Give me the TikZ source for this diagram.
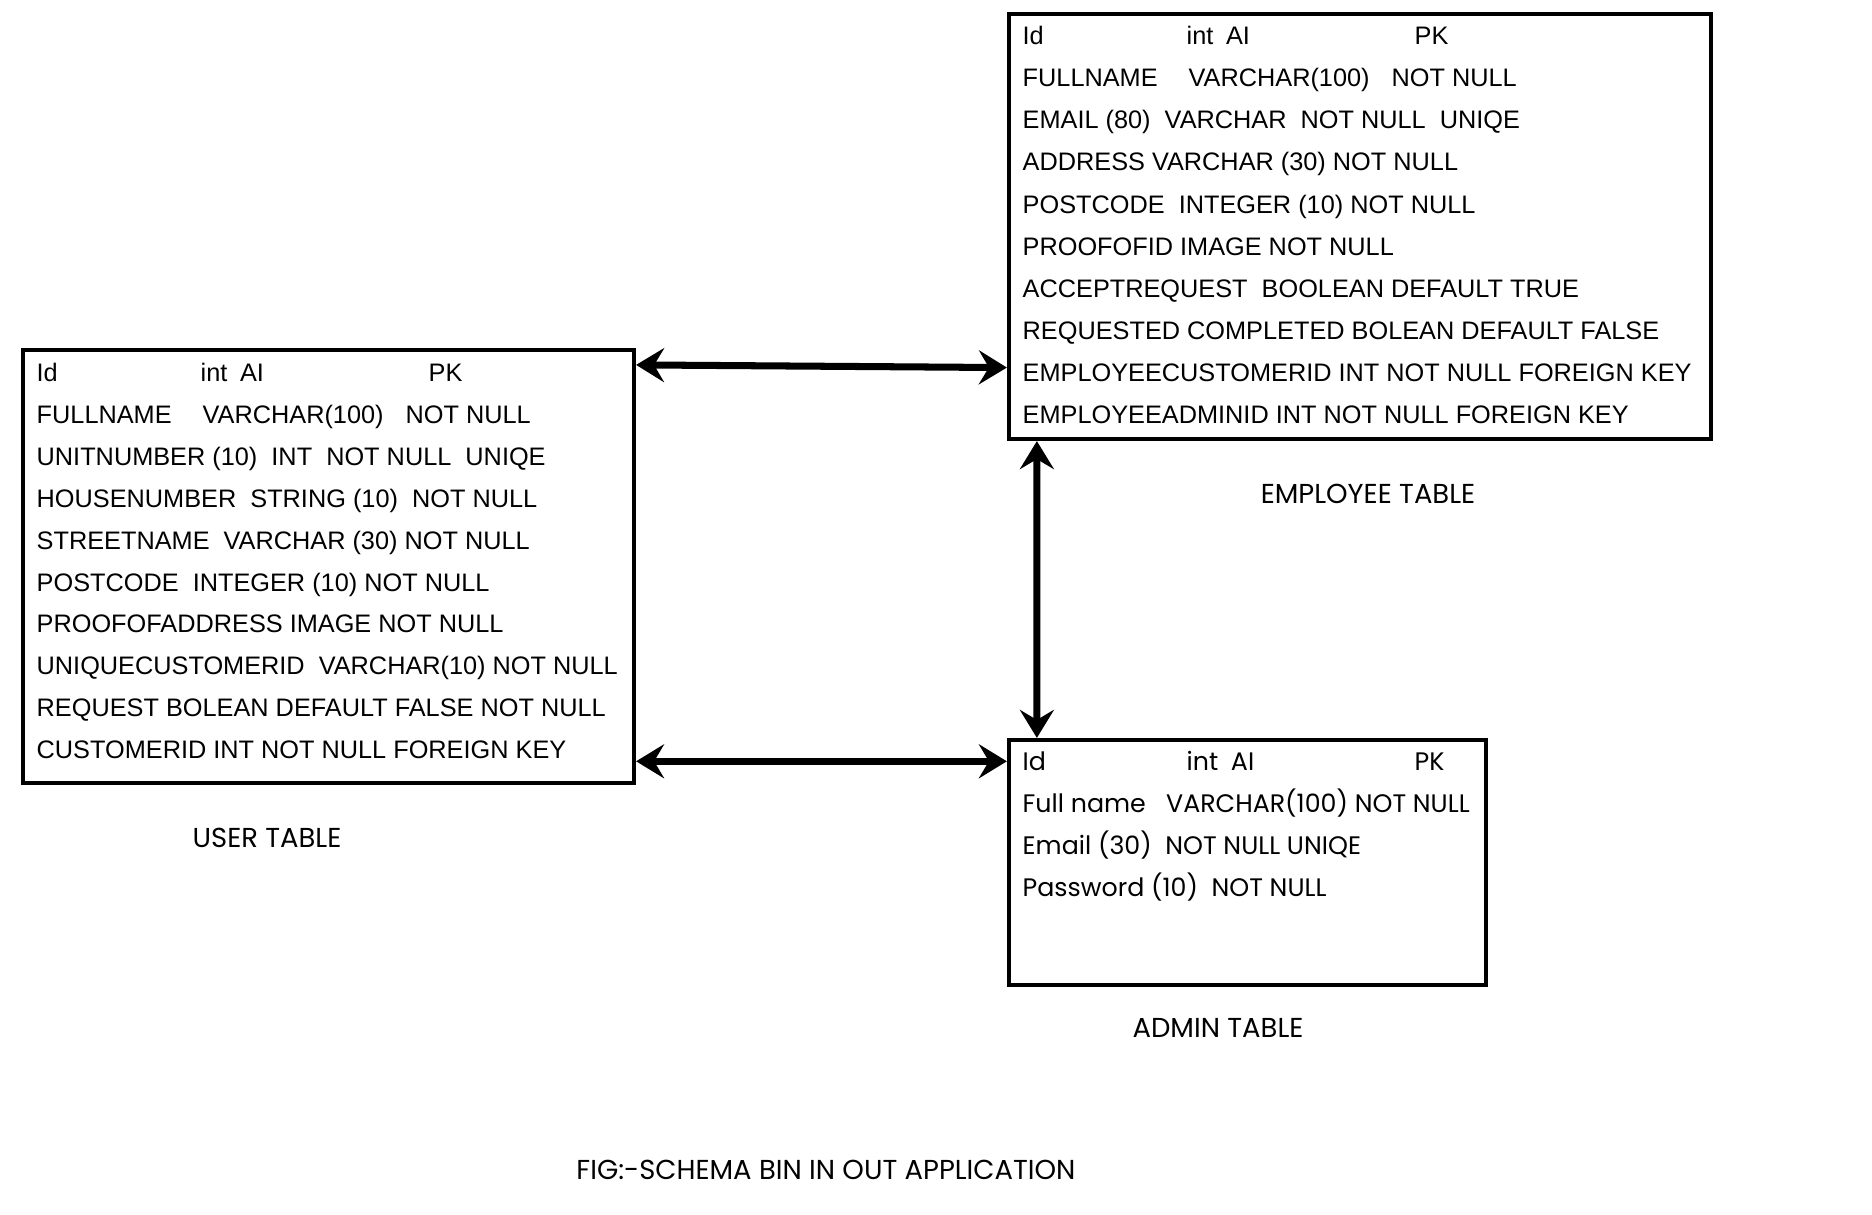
\documentclass[tikz,border=0pt]{standalone}
\usepackage{fontspec}
\setmainfont{Liberation Sans}
\newfontfamily\roundfont{Poppins}
\usetikzlibrary{positioning, arrows.meta, calc}

% tabbed rows
\newcommand{\idrow}{\makebox[1.64cm][l]{Id}\makebox[2.28cm][l]{int\enspace AI}PK}
\newcommand{\namerow}{\makebox[1.66cm][l]{FULLNAME}\makebox[2.03cm][l]{VARCHAR(100)}NOT NULL}

\begin{document}
\begin{tikzpicture}[
        table/.style={draw=black, line width=1.2pt, inner sep=0pt},
        field/.style={anchor=base west, inner sep=0pt, font=\fontsize{7.2}{8}\selectfont},
        roundfield/.style={field, font=\roundfont\fontsize{7.2}{8}\selectfont},
        caption/.style={font=\roundfont\fontsize{7.8}{9}\selectfont},
        link/.style={line width=2pt, {Stealth[length=0.28cm, width=0.34cm, inset=0.1cm]}-{Stealth[length=0.28cm, width=0.34cm, inset=0.1cm]}},
    ]
    \useasboundingbox (0,0) rectangle (18.72,-12.14);

    % === USER TABLE ===
    \node[table, minimum width=6.11cm, minimum height=4.33cm] (user) at (3.285,-5.665) {};
    \foreach \txt [count=\i] in {\idrow, \namerow, UNITNUMBER (10)\ \ INT\ \ NOT NULL\ \ UNIQE,
        HOUSENUMBER\ \ STRING (10)\ \ NOT NULL, STREETNAME\ \ VARCHAR (30) NOT NULL,
        POSTCODE\ \ INTEGER (10) NOT NULL, PROOFOFADDRESS IMAGE NOT NULL,
        UNIQUECUSTOMERID\ \ VARCHAR(10) NOT NULL, REQUEST BOLEAN DEFAULT FALSE NOT NULL,
        CUSTOMERID INT NOT NULL FOREIGN KEY}
        \node[field] (u\i) at (0.36, {-3.815-0.419*(\i-1)}) {\txt};

    % === EMPLOYEE TABLE ===
    \node[table, minimum width=7.02cm, minimum height=4.25cm] (employee) at (13.60,-2.265) {};
    \foreach \txt [count=\i] in {\idrow, \namerow, EMAIL (80)\ \ VARCHAR\ \ NOT NULL\ \ UNIQE,
        ADDRESS VARCHAR (30) NOT NULL, POSTCODE\ \ INTEGER (10) NOT NULL,
        PROOFOFID IMAGE NOT NULL, ACCEPTREQUEST\ \ BOOLEAN DEFAULT TRUE,
        REQUESTED COMPLETED BOLEAN DEFAULT FALSE,
        EMPLOYEECUSTOMERID INT NOT NULL FOREIGN KEY,
        EMPLOYEEADMINID INT NOT NULL FOREIGN KEY}
        \node[field] (e\i) at (10.22, {-0.448-0.4206*(\i-1)}) {\txt};

    % === ADMIN TABLE ===
    \node[table, minimum width=4.77cm, minimum height=2.45cm] (admin) at (12.475,-8.625) {};
    \foreach \txt [count=\i] in {\idrow, Full name\ \ \ VARCHAR(100) NOT NULL,
        Email (30)\ \ NOT NULL UNIQE, Password (10)\ \ NOT NULL}
        \node[roundfield] (a\i) at (10.22, {-7.708-0.418*(\i-1)}) {\txt};

    % Relations
    \draw[link] ($(user.north east)+(0,-0.17)$) -- ($(e9.west -| employee.west)+(0,0.05)$);
    \draw[link] (a1.west -| user.east) -- (a1.west -| admin.west);
    \draw[link] ($(employee.south west)+(0.30,0)$) -- ($(admin.north west)+(0.30,0)$);

    % Labels
    \node[caption] (userlbl) at (2.67,-8.38) {USER TABLE};
    \node[caption] (emplbl) at (13.68,-4.94) {EMPLOYEE TABLE};
    \node[caption] (adminlbl) at (12.18,-10.28) {ADMIN TABLE};
    \node[caption] (figlbl) at (8.26,-11.70) {FIG:-SCHEMA BIN IN OUT APPLICATION};

\end{tikzpicture}
\end{document}
